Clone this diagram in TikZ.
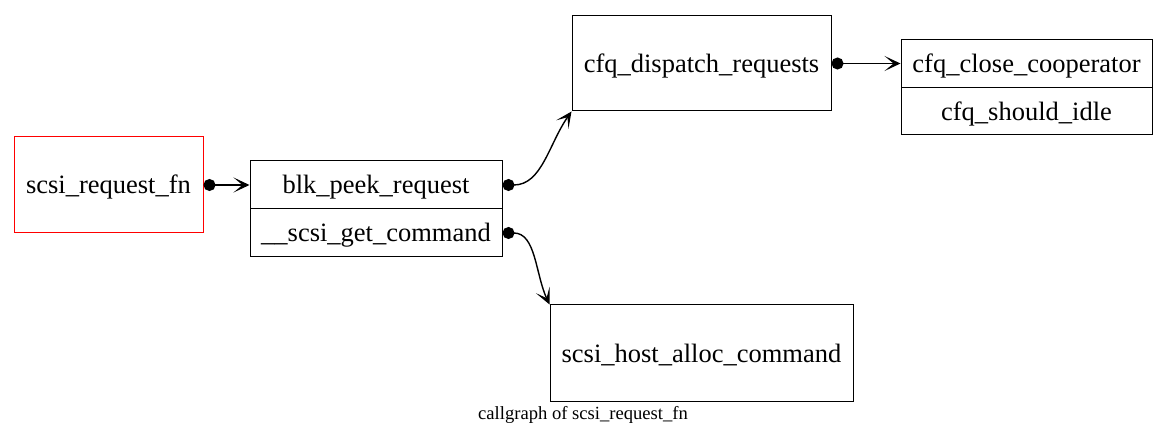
\documentclass[tikz,border=0pt]{standalone}
\usepackage{fontspec}
\setmainfont{Liberation Serif}
\usetikzlibrary{arrows.meta}
\tikzset{
  fn/.style={draw=black, line width=1pt, minimum height=#1, inner sep=0pt,
    text height=20pt, text depth=2pt,
    font=\fontsize{26.5}{30}\selectfont},
  fn/.default=96pt,
  call/.style={line width=1.4pt, {Circle[length=12pt]}-{Stealth[length=16pt,width=15pt,inset=9pt]}},
}
\begin{document}
\begin{tikzpicture}[x=1pt,y=-1pt]
\useasboundingbox (0,0) rectangle (1167,446);
\node[fn, draw=red, minimum width=189pt] (req) at (108.5,185) {scsi\_request\_fn};
\node[fn=48pt, minimum width=252pt] (peek) at (376,185) {blk\_peek\_request};
\node[fn=48pt, minimum width=252pt] (getc) at (376,233) {\_\_scsi\_get\_command};
\node[fn=95pt, minimum width=259pt] (disp) at (701.5,63.5) {cfq\_dispatch\_requests};
\node[fn=48pt, minimum width=251pt] (close) at (1026.5,64) {cfq\_close\_cooperator};
\node[fn=47pt, minimum width=251pt] (idle) at (1026.5,111.5) {cfq\_should\_idle};
\node[fn, minimum width=303pt] (host) at (701.5,353) {scsi\_host\_alloc\_command};
\node[font=\fontsize{18.6}{22}\selectfont] (cap) at (583,415) {callgraph of scsi\_request\_fn};
\draw[call] (req.east) -- (peek.west);
\draw[call] (peek.east) to[out=0,in=235] (disp.south west);
\draw[call] (getc.east) to[out=0,in=115] (host.north west);
\draw[call] (disp.east) -- (disp.east -| close.west);
\end{tikzpicture}
\end{document}
